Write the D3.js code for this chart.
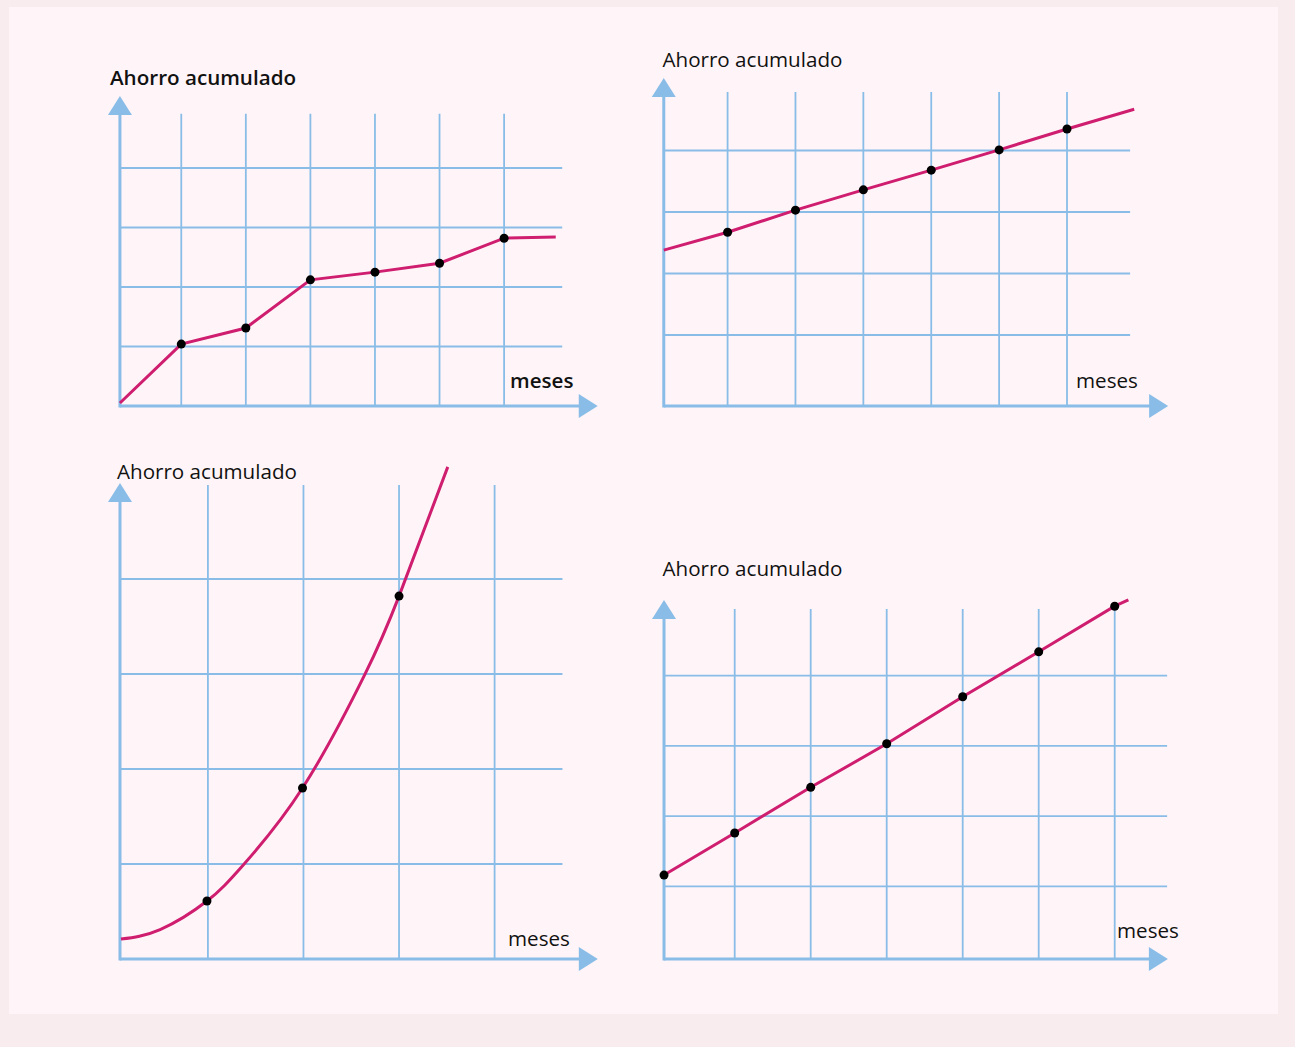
<!DOCTYPE html>
<html lang="es">
<head>
<meta charset="UTF-8">
<title>Ahorro acumulado</title>
<style>
    body { margin: 0; background: #f9ecee; }
    svg { display: block; }
    .title { font-family: "Open Sans", "Noto Sans", sans-serif; font-size: 20.6px; fill: #111; }
    .bold { font-weight: 600; }
</style>
</head>
<body>
<div class="canvas"></div>
<script src="https://d3js.org/d3.v7.min.js"></script>
<script>
    // ---- data (months on x, accumulated savings on y, in grid units) ----
    // panel 1: irregular growth
    const p1Months  = [0.05, 1, 2, 3, 4, 5, 6, 6.8];
    const p1Savings = [0.05, 1.04, 1.31, 2.12, 2.25, 2.40, 2.82, 2.84];
    const p1Dots    = [false, true, true, true, true, true, true, false];
    const p1GridMonths  = [1, 2, 3, 4, 5, 6];
    const p1GridSavings = [1, 2, 3, 4];

    // panel 2: straight line, starts with savings
    const p2Months  = [0.06, 1, 2, 3, 4, 5, 6, 6.99];
    const p2Savings = [2.38, 2.67, 3.03, 3.36, 3.68, 4.01, 4.35, 4.67];
    const p2Dots    = [false, true, true, true, true, true, true, false];
    const p2GridMonths  = [1, 2, 3, 4, 5, 6];
    const p2GridSavings = [1, 2, 3, 4];

    // panel 3: accelerating curve
    const p3Months  = [0.09, 0.5, 0.99, 1.37, 1.99, 2.64, 3.0, 3.51];
    const p3Savings = [0.21, 0.31, 0.61, 0.99, 1.80, 2.99, 3.82, 5.18];
    const p3Dots    = [false, false, true, false, true, false, true, false];
    const p3GridMonths  = [1, 2, 3, 4];
    const p3GridSavings = [1, 2, 3, 4];

    // panel 4: steeper straight line
    const p4Months  = [0.07, 1, 2, 3, 4, 5, 6, 6.18];
    const p4Savings = [1.16, 1.76, 2.41, 3.03, 3.70, 4.34, 4.99, 5.08];
    const p4Dots    = [true, true, true, true, true, true, true, false];
    const p4GridMonths  = [1, 2, 3, 4, 5, 6];
    const p4GridSavings = [1, 2, 3, 4];

    const yLabel = "Ahorro acumulado";
    const xLabel = "meses";

    // ---- layout ----
    const W = 1295, H = 1047;
    const blue = "#89bde7";
    const magenta = "#cf1d6f";

    const svg = d3.select(".canvas").append("svg")
        .attr("width", W).attr("height", H);

    svg.append("rect").attr("width", W).attr("height", H).attr("fill", "#f9ecee");
    svg.append("rect").attr("x", 9).attr("y", 7).attr("width", 1269).attr("height", 1007)
        .attr("fill", "#fff5f8");

    const panels = [
        {
            months: p1Months, savings: p1Savings, dots: p1Dots,
            gridM: p1GridMonths, gridS: p1GridSavings,
            xDom: [0, 6], xRange: [116.7, 504.1], yDom: [0, 4], yRange: [406, 168],
            axisM: 0.05, axisS: 0, gridTop: 4.91, gridRight: 6.9, xTip: 7.45, yTip: 5.21,
            curve: d3.curveLinear, bold: true,
            title: [110, 85], meses: [510, 388]
        },
        {
            months: p2Months, savings: p2Savings, dots: p2Dots,
            gridM: p2GridMonths, gridS: p2GridSavings,
            xDom: [0, 6], xRange: [659.7, 1067], yDom: [0, 4], yRange: [396.5, 150.5],
            axisM: 0.06, axisS: -0.155, gridTop: 4.95, gridRight: 6.93, xTip: 7.49, yTip: 5.18,
            curve: d3.curveLinear, bold: false,
            title: [662.5, 67], meses: [1076, 388]
        },
        {
            months: p3Months, savings: p3Savings, dots: p3Dots,
            gridM: p3GridMonths, gridS: p3GridSavings,
            xDom: [0, 4], xRange: [112.35, 494.6], yDom: [0, 4], yRange: [959, 579],
            axisM: 0.08, axisS: 0, gridTop: 4.99, gridRight: 4.71, xTip: 5.08, yTip: 5.01,
            curve: d3.curveNatural, bold: false,
            title: [117, 479], meses: [508, 946]
        },
        {
            months: p4Months, savings: p4Savings, dots: p4Dots,
            gridM: p4GridMonths, gridS: p4GridSavings,
            xDom: [0, 6], xRange: [658.7, 1114.7], yDom: [0, 4], yRange: [956.5, 675.7],
            axisM: 0.07, axisS: -0.036, gridTop: 4.95, gridRight: 6.69, xTip: 6.7, yTip: 5.08,
            curve: d3.curveLinear, bold: false,
            title: [662.5, 576], meses: [1117, 938]
        }
    ];

    const arrowLen = 19, arrowHalf = 12;

    panels.forEach(p => {
        const x = d3.scaleLinear().domain(p.xDom).range(p.xRange);
        const y = d3.scaleLinear().domain(p.yDom).range(p.yRange);
        const g = svg.append("g");

        const x0 = x(p.axisM), y0 = y(p.axisS);

        // grid
        g.selectAll(".vgrid").data(p.gridM).enter().append("line")
            .attr("x1", d => x(d)).attr("x2", d => x(d))
            .attr("y1", y0).attr("y2", y(p.gridTop))
            .attr("stroke", blue).attr("stroke-width", 1.8);
        g.selectAll(".hgrid").data(p.gridS).enter().append("line")
            .attr("x1", x0).attr("x2", x(p.gridRight))
            .attr("y1", d => y(d)).attr("y2", d => y(d))
            .attr("stroke", blue).attr("stroke-width", 1.8);

        // axes with arrow heads
        const xt = x(p.xTip), yt = y(p.yTip);
        g.append("line").attr("x1", x0).attr("x2", xt - arrowLen + 1)
            .attr("y1", y0).attr("y2", y0)
            .attr("stroke", blue).attr("stroke-width", 3);
        g.append("line").attr("x1", x0).attr("x2", x0)
            .attr("y1", y0 + 1.5).attr("y2", yt + arrowLen - 1)
            .attr("stroke", blue).attr("stroke-width", 3);
        g.append("path")
            .attr("d", `M${xt},${y0}L${xt - arrowLen},${y0 - arrowHalf}L${xt - arrowLen},${y0 + arrowHalf}Z`)
            .attr("fill", blue);
        g.append("path")
            .attr("d", `M${x0},${yt}L${x0 - arrowHalf},${yt + arrowLen}L${x0 + arrowHalf},${yt + arrowLen}Z`)
            .attr("fill", blue);

        // savings line
        const pts = p.months.map((m, i) => ({ m: m, s: p.savings[i], dot: p.dots[i] }));
        const line = d3.line().x(d => x(d.m)).y(d => y(d.s)).curve(p.curve);
        g.append("path").datum(pts)
            .attr("d", line)
            .attr("fill", "none")
            .attr("stroke", magenta)
            .attr("stroke-width", 3);

        g.selectAll(".dot").data(pts.filter(d => d.dot)).enter().append("circle")
            .attr("cx", d => x(d.m)).attr("cy", d => y(d.s))
            .attr("r", 4.5).attr("fill", "#000");

        // labels
        g.append("text").attr("class", "title" + (p.bold ? " bold" : ""))
            .attr("x", p.title[0]).attr("y", p.title[1]).text(yLabel);
        g.append("text").attr("class", "title" + (p.bold ? " bold" : ""))
            .attr("x", p.meses[0]).attr("y", p.meses[1]).text(xLabel);
    });
</script>
</body>
</html>
